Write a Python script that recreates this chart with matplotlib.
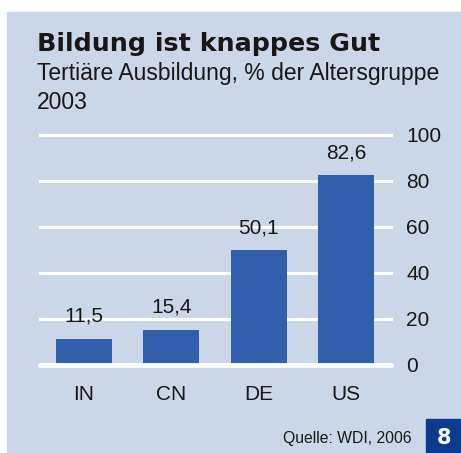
import matplotlib
matplotlib.use("Agg")
import matplotlib.pyplot as plt
from matplotlib.patches import Rectangle

# data
countries = ["IN", "CN", "DE", "US"]
values = [11.5, 15.4, 50.1, 82.6]
yticks = [0, 20, 40, 60, 80, 100]

bg = "#cbd7e8"
bar_color = "#315fab"
box_color = "#0b3a8e"

plt.rcParams["font.family"] = ["Liberation Sans", "DejaVu Sans"]

W, H = 461, 453
fig = plt.figure(figsize=(W / 100, H / 100), dpi=100)
fig.patch.set_facecolor("white")

# blue panel
fig.patches.append(Rectangle((7 / W, 0), 1 - 7 / W, 1 - 12 / H,
                             transform=fig.transFigure, color=bg, zorder=-2))
# page number box
fig.patches.append(Rectangle((426 / W, 0), 1 - 426 / W, 34 / H,
                             transform=fig.transFigure, color=box_color, zorder=-1))
fig.text(444 / W, 15.5 / H, "8", color="white", fontsize=15, fontweight="bold",
         family="DejaVu Sans", ha="center", va="center")

fig.text(37 / W, 1 - 51 / H, "Bildung ist knappes Gut", fontsize=18.3,
         fontweight="bold", family="DejaVu Sans", color="#1a1616",
         ha="left", va="baseline")
fig.text(37 / W, 1 - 80 / H, "Tertiäre Ausbildung, % der Altersgruppe",
         fontsize=16.5, color="#1a1616", ha="left", va="baseline")
fig.text(37 / W, 1 - 109 / H, "2003", fontsize=16.5, color="#1a1616",
         ha="left", va="baseline")
fig.text(412 / W, 1 - 438 / H, "Quelle: WDI, 2006", fontsize=11.3,
         color="#1a1616", ha="right", va="center")

ax = fig.add_axes([40 / W, 1 - 365 / H, 351 / W, 230 / H])
ax.set_zorder(2)
ax.set_facecolor("none")
for s in ax.spines.values():
    s.set_visible(False)

x = list(range(len(countries)))
ax.bar(x, values, width=0.64, color=bar_color, zorder=2)

for t in yticks[1:]:
    ax.axhline(t, color="white", lw=2.2, zorder=1, clip_on=False)
ax.axhline(0, color="white", lw=3.5, zorder=3, clip_on=False,
           solid_capstyle="round")

for xi, v in zip(x, values):
    ax.annotate(f"{v:.1f}".replace(".", ","), (xi, v), xytext=(0, 16),
                textcoords="offset points", ha="center", va="center",
                fontsize=15, color="#1a1616")
    ax.text(xi, -13, countries[xi], ha="center", va="center", fontsize=15,
            color="#1a1616", clip_on=False)

ax.set_xlim(-0.5, 3.51)
ax.set_ylim(0, 100)
ax.set_xticks([])
ax.yaxis.tick_right()
ax.set_yticks(yticks)
ax.set_yticklabels([str(t) for t in yticks])
ax.tick_params(axis="y", length=0, pad=11, labelsize=15, labelcolor="#1a1616")

fig.savefig("out.png", dpi=100)
